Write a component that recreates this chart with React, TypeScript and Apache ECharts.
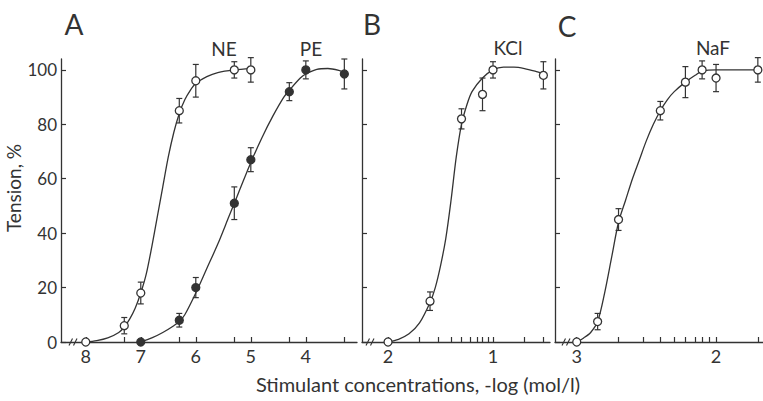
import React, { useEffect, useRef } from "react";
import * as echarts from "echarts";

// ---- axes / ticks ----
const yTicks = [0, 20, 40, 60, 80, 100];
const aLabels = [8, 7, 6, 5, 4];
const aTicks = [8, 7.3, 7, 6.3, 6, 5.3, 5, 4.3, 4, 3.3];
const bLabels = [2, 1];
const bTicks = [2, 1.7, 1.52, 1.4, 1.3, 1.22, 1.15, 1.1, 1.05, 1, 0.7, 0.52];
const cLabels = [3, 2];
const cTicks = [3, 2.7, 2.52, 2.4, 2.3, 2.22, 2.15, 2.1, 2.05, 2, 1.7];

// ---- measured points (x = -log conc, y = tension %, err = half bar) ----
const neX = [8, 7.3, 7, 6.3, 6, 5.3, 5];
const neY = [0, 6, 18, 85, 96, 100, 100];
const neErr = [0, 3, 4, 4.5, 6, 3, 4.5];

const peX = [7, 6.3, 6, 5.3, 5, 4.3, 4, 3.3];
const peY = [0, 8, 20, 51, 67, 92, 100, 98.5];
const peErr = [0, 2.5, 3.7, 6, 4.4, 3.3, 3.3, 5.5];

const kclX = [2, 1.6, 1.3, 1.1, 1, 0.52];
const kclY = [0, 15, 82, 91, 100, 98];
const kclErr = [0, 3.4, 3.7, 6, 3, 5];

const nafX = [3, 2.85, 2.7, 2.4, 2.22, 2.1, 2, 1.7];
const nafY = [0, 7.5, 45, 85, 95.5, 100, 97, 100];
const nafErr = [0, 3, 4, 3.4, 5.7, 3.3, 5, 4.5];

// ---- fitted curves ----
const neCurveX = [8, 7.8, 7.6, 7.4, 7.3, 7.2, 7.1, 7, 6.9, 6.8, 6.7, 6.6, 6.5, 6.4, 6.3, 6.2, 6.1, 6, 5.8, 5.6, 5.3, 5];
const neCurveY = [0, 0.5, 1.5, 3.5, 5.5, 8.5, 12.5, 18, 25, 35, 46, 57, 68, 77, 84, 89, 92.5, 95, 97.5, 99, 100, 100.5];

const peCurveX = [7, 6.8, 6.6, 6.4, 6.3, 6.2, 6, 5.8, 5.6, 5.4, 5.3, 5.2, 5, 4.8, 4.6, 4.4, 4.3, 4.1, 4, 3.8, 3.6, 3.4, 3.3];
const peCurveY = [0, 1.5, 3.5, 6, 7.5, 10, 18, 27, 36, 46, 51, 56, 66, 75, 83, 90, 92.5, 97, 98.5, 100.2, 100.5, 99.8, 99];

const kclCurveX = [2, 1.9, 1.8, 1.7, 1.6, 1.55, 1.5, 1.45, 1.4, 1.35, 1.3, 1.25, 1.2, 1.1, 1, 0.9, 0.8, 0.7, 0.6, 0.52];
const kclCurveY = [0, 1, 3, 7, 14.5, 20, 28, 38, 52, 68, 80, 87, 92, 97, 100, 101, 101, 100.5, 99.5, 98.5];

const nafCurveX = [3, 2.95, 2.9, 2.85, 2.8, 2.75, 2.7, 2.65, 2.6, 2.55, 2.5, 2.45, 2.4, 2.35, 2.3, 2.22, 2.15, 2.1, 2, 1.7];
const nafCurveY = [0, 1.5, 3.5, 7.5, 18, 31, 44, 52, 60, 67, 74, 80, 85, 89, 92, 95.5, 98, 99.5, 100, 100];

const INK = "#333333";
const FONT = "Lato";

const pairs = (xs: number[], ys: number[]) => xs.map((x, i) => [x, ys[i]]);
const errs = (xs: number[], ys: number[], es: number[]) =>
  xs.map((x, i) => [x, ys[i] - es[i], ys[i] + es[i], es[i]]).filter((d) => d[3] > 0);

const errRender = (params: any, api: any) => {
  const x = api.value(0);
  const lo = api.value(1);
  const hi = api.value(2);
  const t = api.coord([x, hi]);
  const b = api.coord([x, lo]);
  const w = 3;
  const st = { stroke: INK, lineWidth: 1.2 };
  return {
    type: "group",
    children: [
      { type: "line", shape: { x1: t[0], y1: t[1], x2: b[0], y2: b[1] }, style: st },
      { type: "line", shape: { x1: t[0] - w, y1: t[1], x2: t[0] + w, y2: t[1] }, style: st },
      { type: "line", shape: { x1: b[0] - w, y1: b[1], x2: b[0] + w, y2: b[1] }, style: st },
    ],
  };
};

const xAxisBase = (grid: number, min: number, max: number, labels: number[], ticks: number[]) => ({
  type: "value",
  gridIndex: grid,
  inverse: true,
  min,
  max,
  splitLine: { show: false },
  axisLine: { show: true, lineStyle: { color: INK, width: 1.3 } },
  axisTick: { show: true, inside: true, length: 5, customValues: ticks, lineStyle: { color: INK, width: 1.2 } },
  axisLabel: { show: true, customValues: labels, color: INK, fontFamily: FONT, fontSize: 18, margin: 5 },
});

const yAxisBase = (grid: number, showLabels: boolean) => ({
  type: "value",
  gridIndex: grid,
  min: 0,
  max: 104,
  splitLine: { show: false },
  axisLine: { show: true, lineStyle: { color: INK, width: 1.3 } },
  axisTick: { show: true, inside: true, length: 5, customValues: yTicks, lineStyle: { color: INK, width: 1.2 } },
  axisLabel: { show: showLabels, customValues: yTicks, color: INK, fontFamily: FONT, fontSize: 17, margin: 4 },
});

const curve = (grid: number, xs: number[], ys: number[]) => ({
  type: "line",
  xAxisIndex: grid,
  yAxisIndex: grid,
  data: pairs(xs, ys),
  smooth: 0.3,
  showSymbol: false,
  symbol: "none",
  clip: false,
  lineStyle: { color: INK, width: 1.3 },
  z: 2,
  silent: true,
});

const errSeries = (grid: number, xs: number[], ys: number[], es: number[]) => ({
  type: "custom",
  xAxisIndex: grid,
  yAxisIndex: grid,
  data: errs(xs, ys, es),
  encode: { x: 0, y: [1, 2] },
  renderItem: errRender,
  z: 3,
  silent: true,
});

const dots = (grid: number, xs: number[], ys: number[], filled: boolean) => ({
  type: "scatter",
  xAxisIndex: grid,
  yAxisIndex: grid,
  data: pairs(xs, ys),
  symbol: "circle",
  symbolSize: 8,
  clip: false,
  itemStyle: { color: filled ? INK : "#ffffff", borderColor: INK, borderWidth: 1.3, opacity: 1 },
  z: 4,
  silent: true,
});

const breakMark = (x: number, y: number) => ({
  type: "group",
  children: [
    { type: "rect", shape: { x: x - 1, y: y - 2, width: 10, height: 4 }, style: { fill: "#fff" } },
    { type: "line", shape: { x1: x, y1: y + 3.5, x2: x + 3.5, y2: y - 3.5 }, style: { stroke: INK, lineWidth: 1.1 } },
    { type: "line", shape: { x1: x + 4.5, y1: y + 3.5, x2: x + 8, y2: y - 3.5 }, style: { stroke: INK, lineWidth: 1.1 } },
  ],
});

const txt = (text: string, x: number, y: number, size: number, extra: any = {}) => ({
  type: "text",
  x,
  y,
  ...extra,
  style: { text, fill: INK, font: `${size}px ${FONT}`, align: "center", verticalAlign: "middle" },
});

export default function App() {
  const ref = useRef<HTMLDivElement>(null);
  useEffect(() => {
    if (!ref.current) return;
    const chart = echarts.init(ref.current, undefined, { renderer: "svg" });
    chart.setOption({
      animation: false,
      backgroundColor: "#ffffff",
      grid: [
        { left: 61, top: 59, width: 296, height: 283 },
        { left: 362, top: 59, width: 188, height: 283 },
        { left: 555, top: 59, width: 208, height: 283 },
      ],
      xAxis: [
        xAxisBase(0, 3.07, 8.45, aLabels, aTicks),
        xAxisBase(1, 0.457, 2.248, bLabels, bTicks),
        xAxisBase(2, 1.663, 3.156, cLabels, cTicks),
      ],
      yAxis: [yAxisBase(0, true), yAxisBase(1, false), yAxisBase(2, false)],
      series: [
        curve(0, neCurveX, neCurveY),
        curve(0, peCurveX, peCurveY),
        curve(1, kclCurveX, kclCurveY),
        curve(2, nafCurveX, nafCurveY),
        errSeries(0, neX, neY, neErr),
        errSeries(0, peX, peY, peErr),
        errSeries(1, kclX, kclY, kclErr),
        errSeries(2, nafX, nafY, nafErr),
        dots(0, neX, neY, false),
        dots(0, peX, peY, true),
        dots(1, kclX, kclY, false),
        dots(2, nafX, nafY, false),
      ],
      graphic: [
        breakMark(69, 342),
        breakMark(366, 342),
        breakMark(562, 342),
        txt("A", 74, 24, 28),
        txt("B", 372, 24, 28),
        txt("C", 567, 26, 28),
        txt("NE", 224, 48, 19),
        txt("PE", 311, 48, 19),
        txt("KCl", 508, 47, 19),
        txt("NaF", 713, 47, 19),
        txt("Stimulant concentrations, -log (mol/l)", 418, 384, 20),
        txt("Tension, %", 13, 188, 19, { rotation: Math.PI / 2 }),
      ],
    });
    return () => chart.dispose();
  }, []);
  return (
    <div
      ref={ref}
      style={{ position: "absolute", left: 0, top: 0, width: 763, height: 401, background: "#fff" }}
    />
  );
}
